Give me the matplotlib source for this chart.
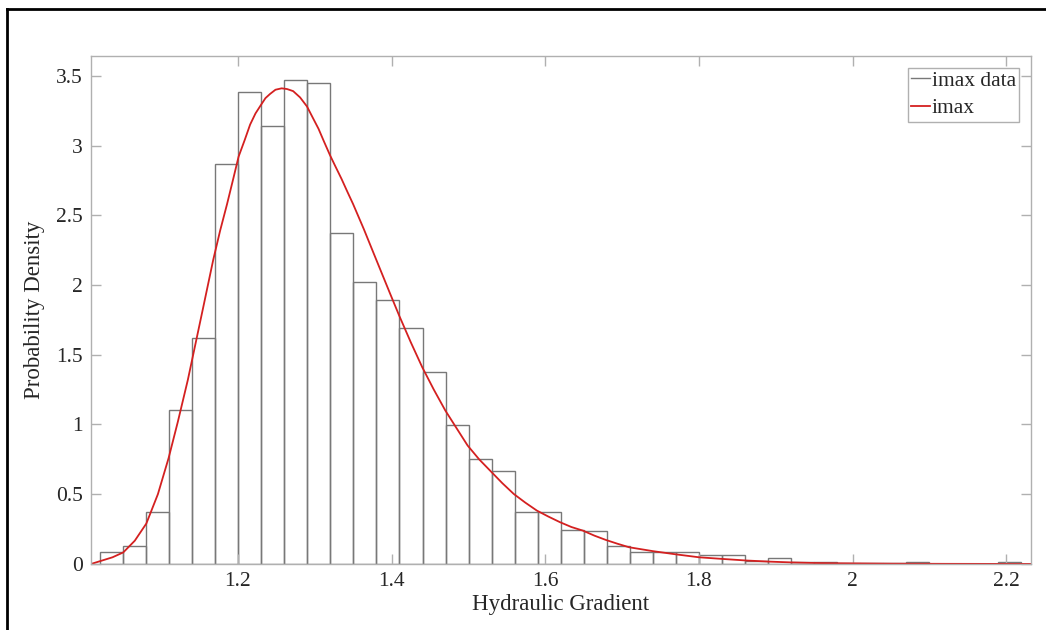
import numpy as np
import matplotlib
matplotlib.use('Agg')
import matplotlib.pyplot as plt
from matplotlib.lines import Line2D

plt.rcParams['font.family'] = ['Liberation Serif', 'DejaVu Serif']

# histogram (probability density), 40 bins
binLo = 1.021
binHi = 2.219
density = [0.083, 0.131, 0.371, 1.105, 1.622, 2.869, 3.381, 3.137, 3.470, 3.446,
           2.376, 2.024, 1.890, 1.689, 1.376, 0.998, 0.754, 0.665, 0.373, 0.373,
           0.241, 0.239, 0.131, 0.085, 0.085, 0.085, 0.063, 0.063, 0.024, 0.040,
           0.017, 0.012, 0.008, 0.008, 0.004, 0.017, 0.0, 0.0, 0.0, 0.017]

# fitted pdf, points
curveX = [1.009, 1.023, 1.037, 1.051, 1.066, 1.081, 1.096, 1.110, 1.122, 1.135,
          1.145, 1.155, 1.168, 1.177, 1.186, 1.194, 1.201, 1.209, 1.216, 1.223,
          1.230, 1.236, 1.242, 1.249, 1.257, 1.264, 1.272, 1.281, 1.290, 1.297,
          1.305, 1.312, 1.320, 1.327, 1.335, 1.342, 1.350, 1.364, 1.378, 1.398,
          1.410, 1.425, 1.440, 1.455, 1.470, 1.485, 1.499, 1.514, 1.529, 1.544,
          1.559, 1.574, 1.589, 1.604, 1.619, 1.634, 1.649, 1.664, 1.679, 1.694,
          1.709, 1.740, 1.770, 1.800, 1.831, 1.861, 1.891, 1.921, 1.950, 1.978,
          2.050, 2.120, 2.232]
curveY = [0.0, 0.024, 0.048, 0.083, 0.167, 0.29, 0.50, 0.76, 1.02, 1.32,
          1.58, 1.84, 2.18, 2.39, 2.58, 2.76, 2.92, 3.04, 3.15, 3.23,
          3.29, 3.34, 3.37, 3.40, 3.41, 3.405, 3.39, 3.345, 3.28, 3.205,
          3.12, 3.03, 2.93, 2.85, 2.76, 2.675, 2.58, 2.40, 2.21, 1.94,
          1.78, 1.59, 1.41, 1.25, 1.10, 0.97, 0.849, 0.75, 0.665, 0.58,
          0.502, 0.44, 0.383, 0.34, 0.30, 0.265, 0.239, 0.203, 0.172, 0.145,
          0.12, 0.092, 0.069, 0.048, 0.036, 0.025, 0.017, 0.011, 0.007, 0.005,
          0.002, 0.001, 0.0]

xTicks = [1.2, 1.4, 1.6, 1.8, 2.0, 2.2]
xTickLabels = ['1.2', '1.4', '1.6', '1.8', '2', '2.2']
yTicks = [0, 0.5, 1, 1.5, 2, 2.5, 3, 3.5]
yTickLabels = ['0', '0.5', '1', '1.5', '2', '2.5', '3', '3.5']

fig = plt.figure(figsize=(10.46, 6.30), dpi=100)
ax = fig.add_axes([0.087, 0.1048, 0.8987, 0.8068])

edges = np.linspace(binLo, binHi, len(density) + 1)
ax.bar(edges[:-1], density, width=np.diff(edges), align='edge', fill=False,
       edgecolor='#787878', linewidth=1.0, label='imax data')
ax.plot(curveX, curveY, color='#d42020', linewidth=1.3, label='imax',
        solid_joinstyle='round')

ax.set_xlim(1.009, 2.232)
ax.set_ylim(0, 3.644)
ax.set_xticks(xTicks)
ax.set_xticklabels(xTickLabels)
ax.set_yticks(yTicks)
ax.set_yticklabels(yTickLabels)

gray = '#b0b0b0'
for s in ax.spines.values():
    s.set_color(gray)
    s.set_linewidth(1.0)
ax.tick_params(direction='in', length=7, width=1.0, color=gray, top=True, right=True,
               labelsize=15.5, labelcolor='#262626', pad=6)

ax.set_xlabel('Hydraulic Gradient', fontsize=16.5, color='#262626', labelpad=2)
ax.set_ylabel('Probability Density', fontsize=16.5, color='#262626', labelpad=8)

handles = [Line2D([], [], color='#787878', linewidth=1.0),
           Line2D([], [], color='#d42020', linewidth=1.3)]
leg = ax.legend(handles, ['imax data', 'imax'], loc='upper right', fontsize=15.5,
                handlelength=0.85, handletextpad=0.1, borderpad=0.15, labelspacing=0.35,
                fancybox=False, framealpha=1.0, borderaxespad=0.55)
leg.get_frame().set_edgecolor(gray)
leg.get_frame().set_linewidth(1.0)
for t in leg.get_texts():
    t.set_color('#262626')

# black frame around the screenshot (top and left)
fig.add_artist(Line2D([7 / 1046, 1.0], [1 - 9 / 630, 1 - 9 / 630], color='black',
                      linewidth=2.0, transform=fig.transFigure))
fig.add_artist(Line2D([7 / 1046, 7 / 1046], [0.0, 1 - 9 / 630], color='black',
                      linewidth=2.0, transform=fig.transFigure))

fig.savefig('out.png', dpi=100)
